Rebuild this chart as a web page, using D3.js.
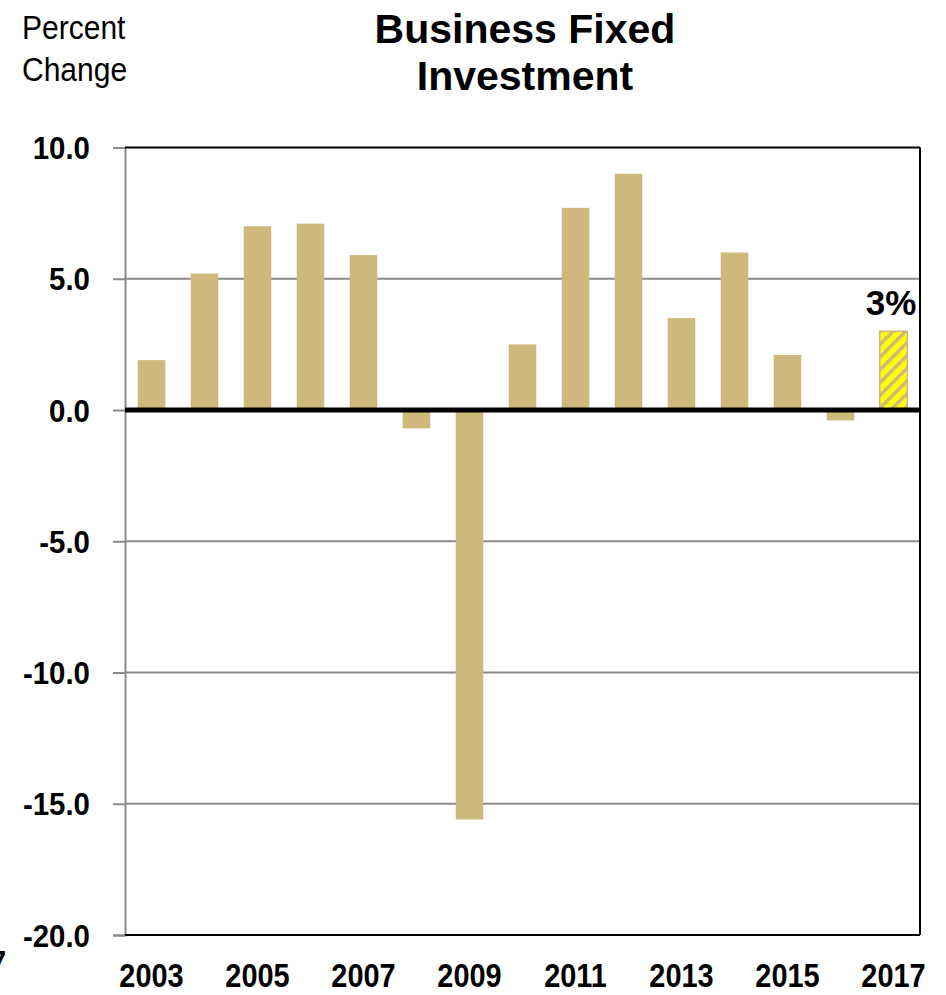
<!DOCTYPE html>
<html>
<head>
<meta charset="utf-8">
<script src="https://cdn.jsdelivr.net/npm/d3@7"></script>
<style>
  html, body { margin: 0; padding: 0; background: #fff; }
  svg { display: block; }
</style>
</head>
<body>
<div id="chart"></div>
<script>
const years = ["2003","2004","2005","2006","2007","2008","2009","2010","2011","2012","2013","2014","2015","2016","2017"];
const values = [1.9, 5.2, 7.0, 7.1, 5.9, -0.7, -15.6, 2.5, 7.7, 9.0, 3.5, 6.0, 2.1, -0.4, 3.0];
const forecast = ["2017"];
const yTicks = [10, 5, 0, -5, -10, -15, -20];
const xLabels = ["2003","2005","2007","2009","2011","2013","2015","2017"];
const titleLines = ["Business Fixed", "Investment"];
const unitLines = ["Percent", "Change"];
const callout = "3%";

const W = 946, H = 995;
const L = 125, R = 920, T = 147.5, B = 935;
const sans = "'Liberation Sans', Arial, Helvetica, sans-serif";
const tan = "#cfb87c";

const svg = d3.select("#chart").append("svg").attr("width", W).attr("height", H);

const defs = svg.append("defs");
const pat = defs.append("pattern").attr("id", "hatch")
  .attr("patternUnits", "userSpaceOnUse").attr("width", 9).attr("height", 9)
  .attr("patternTransform", "rotate(45)");
pat.append("rect").attr("width", 9).attr("height", 9).attr("fill", "#ffff00");
pat.append("rect").attr("width", 3.5).attr("height", 9).attr("fill", tan);

const x = d3.scaleBand().domain(years).range([L, R]).paddingInner(0.48).paddingOuter(0.24);
const y = d3.scaleLinear().domain([-20, 10]).range([B, T]);
const fmt = d => d3.format(".1f")(d).replace("\u2212", "-");

// grid lines
svg.append("g").selectAll("line").data(yTicks.filter(d => d !== 10 && d !== -20 && d !== 0)).join("line")
  .attr("x1", L).attr("x2", R).attr("y1", d => y(d)).attr("y2", d => y(d))
  .attr("stroke", "#8a8a8a").attr("stroke-width", 2);

// y axis (ticks + domain), labels drawn condensed
const yAxis = d3.axisLeft(y).tickValues(yTicks).tickFormat("").tickSize(12);
const gy = svg.append("g").attr("transform", `translate(${L},0)`).call(yAxis);
gy.select(".domain").attr("stroke", "#8a8a8a").attr("stroke-width", 2);
gy.selectAll(".tick line").attr("stroke", "#8a8a8a").attr("stroke-width", 2);
svg.append("g").selectAll("text").data(yTicks).join("text")
  .attr("transform", d => `translate(90,${y(d)}) scale(0.92,1)`)
  .attr("text-anchor", "end").attr("dy", "0.36em")
  .style("font-family", sans).style("font-size", "32px").style("font-weight", "bold")
  .text(fmt);

// bars
svg.append("g").selectAll("rect").data(years).join("rect")
  .attr("x", d => x(d))
  .attr("width", x.bandwidth())
  .attr("y", (d, i) => y(Math.max(0, values[i])))
  .attr("height", (d, i) => Math.abs(y(values[i]) - y(0)))
  .attr("fill", d => forecast.includes(d) ? "url(#hatch)" : tan)
  .attr("stroke", d => forecast.includes(d) ? tan : "none")
  .attr("stroke-width", 1.5);

// frame top, right, bottom
svg.append("line").attr("x1", L).attr("x2", R).attr("y1", y(10)).attr("y2", y(10)).attr("stroke", "#000").attr("stroke-width", 2);
svg.append("line").attr("x1", R).attr("x2", R).attr("y1", y(10)).attr("y2", y(-20)).attr("stroke", "#000").attr("stroke-width", 2);
svg.append("line").attr("x1", L).attr("x2", R).attr("y1", y(-20)).attr("y2", y(-20)).attr("stroke", "#000").attr("stroke-width", 2);
// zero line
svg.append("line").attr("x1", L).attr("x2", R).attr("y1", y(0)).attr("y2", y(0)).attr("stroke", "#000").attr("stroke-width", 5);

// x labels (condensed)
svg.append("g").selectAll("text").data(xLabels).join("text")
  .attr("transform", d => `translate(${x(d) + x.bandwidth() / 2},987) scale(0.85,1)`)
  .attr("text-anchor", "middle")
  .style("font-family", sans).style("font-size", "34px").style("font-weight", "bold").text(d => d);

// clipped fragment at left edge
svg.append("text").attr("transform", "translate(6,974) scale(0.85,1)").attr("text-anchor", "end")
  .style("font-family", sans).style("font-size", "34px").style("font-weight", "bold").text("7");

// callout
svg.append("text").attr("x", 891).attr("y", y(values[values.length - 1]) - 16)
  .attr("text-anchor", "middle").style("font-family", sans).style("font-size", "35px")
  .style("font-weight", "bold").text(callout);

// title
svg.append("g").selectAll("text").data(titleLines).join("text")
  .attr("x", 525).attr("y", (d, i) => 43 + i * 47)
  .attr("text-anchor", "middle").style("font-family", sans).style("font-size", "41px")
  .style("font-weight", "bold").text(d => d);

// unit label (condensed)
svg.append("g").selectAll("text").data(unitLines).join("text")
  .attr("transform", (d, i) => `translate(22,${39 + i * 42}) scale(0.91,1)`)
  .style("font-family", sans).style("font-size", "33px").text(d => d);
</script>
</body>
</html>
